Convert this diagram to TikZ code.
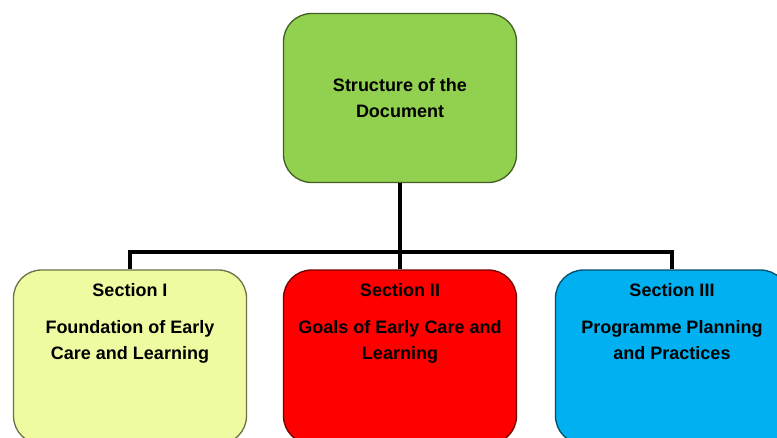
\documentclass[tikz,border=0pt]{standalone}
\usepackage{fontspec}
\setmainfont{Liberation Sans}
\definecolor{docgreen}{RGB}{146,208,80}
\definecolor{secyellow}{RGB}{240,250,160}
\definecolor{secred}{RGB}{255,0,0}
\definecolor{secblue}{RGB}{0,176,240}
\begin{document}
\begin{tikzpicture}[x=1pt, y=-1pt, box style/.style={rectangle, draw=#1!45!black, fill=#1, line width=1.3pt, rounded corners=28pt, minimum width=233pt}, head style/.style={box style=docgreen, minimum height=169pt}, section style/.style={box style=#1, minimum height=174pt}, label style/.style={align=center, font=\fontsize{18}{26}\selectfont\bfseries}]
	\path[use as bounding box, clip] (0,0) rectangle (777,437);
	\node[head style, label style] (D) at (400,98) {Structure of the\\Document};
	\node[section style=secyellow] (S1) at (130,357) {};
	\node[section style=secred] (S2) at (400,357) {};
	\node[section style=secblue] (S3) at (672,357) {};
	\node[label style, anchor=north] (T1) at (130,280) {Section I\\[11pt]Foundation of Early\\Care and Learning};
	\node[label style, anchor=north] (T2) at (400,280) {Section II\\[11pt]Goals of Early Care and\\Learning};
	\node[label style, anchor=north] (T3) at (672,280) {Section III\\[11pt]Programme Planning\\and Practices};
	\coordinate (J) at (400,252);
	\foreach \x in {1,...,3}
	\draw[line width=3.2pt] (D) |- (J) -| (S\x.north);
\end{tikzpicture}
\end{document}
